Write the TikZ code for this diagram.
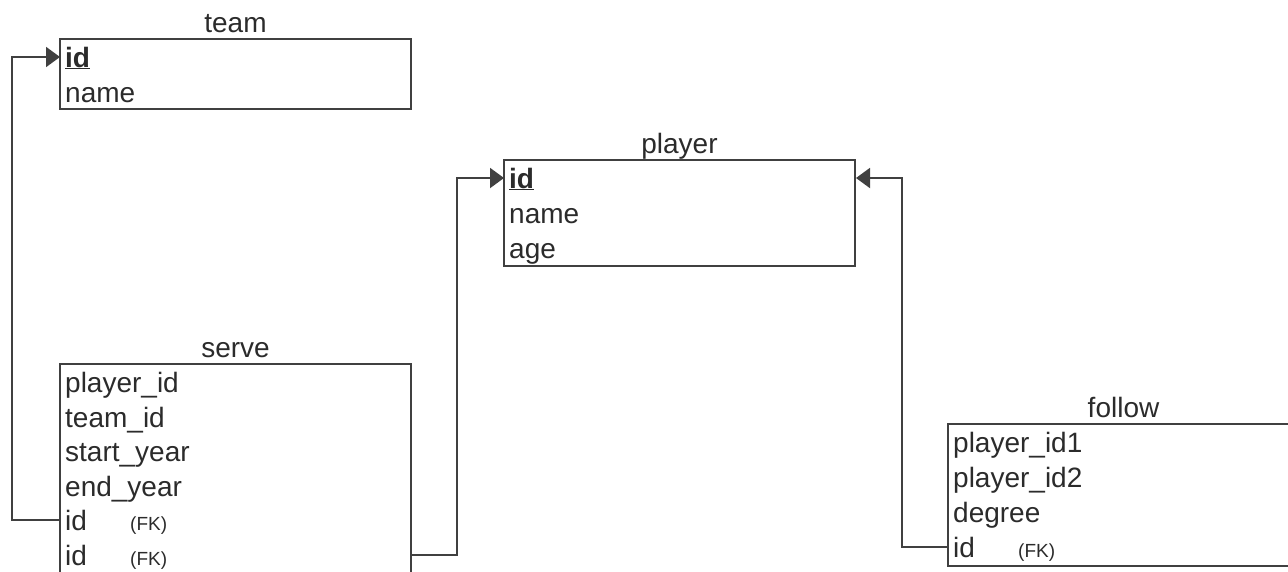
\documentclass[tikz,border=0pt]{standalone}
\usepackage{fontspec}
\setmainfont{Liberation Sans}
\usetikzlibrary{arrows.meta}
\definecolor{inkgray}{HTML}{2B2B2B}
\definecolor{linegray}{HTML}{404040}
\newcommand{\pkey}[1]{\underline{\textbf{#1}}}

\begin{document}
\begin{tikzpicture}[x=1pt, y=-1pt,
  tbl/.style={rectangle, draw=linegray, line width=2pt, inner sep=0pt},
  ttl/.style={anchor=base, inner sep=0pt, text=inkgray, font=\fontsize{28}{32}\selectfont},
  row/.style={anchor=base west, inner xsep=5pt, inner ysep=0pt, text height=20pt, text depth=0pt, text=inkgray, font=\fontsize{28}{32}\selectfont},
  fknote/.style={anchor=base west, inner sep=0pt, text=inkgray, font=\fontsize{19}{22}\selectfont},
  fk/.style={draw=linegray, line width=2pt, -{Triangle[length=14pt, width=20pt]}}]
\useasboundingbox (0,0) rectangle (1288,571);

% team table
\node[tbl, minimum width=351pt, minimum height=70pt] (team) at (235.5,74) {};
\node[ttl] at ([yshift=6pt]team.north) {team};
\node[row] (tid) at (60,67) {\pkey{id}};
\node[row] (tname) at (60,102) {name};

% player table
\node[tbl, minimum width=351pt, minimum height=106pt] (player) at (679.5,213) {};
\node[ttl] at ([yshift=6pt]player.north) {player};
\node[row] (pid) at (504,188) {\pkey{id}};
\node[row] (pname) at (504,223) {name};
\node[row] (page) at (504,258) {age};

% serve table
\node[tbl, minimum width=351pt, minimum height=214pt] (serve) at (235.5,471) {};
\node[ttl] at ([yshift=6pt]serve.north) {serve};
\node[row] (spid) at (60,392) {player\_id};
\node[row] (stid) at (60,427) {team\_id};
\node[row] (sstart) at (60,461) {start\_year};
\node[row] (send) at (60,496) {end\_year};
\node[row] (sid1) at (60,530) {id};
\node[fknote] (sfk1) at (130,530) {(FK)};
\node[row] (sid2) at (60,565) {id};
\node[fknote] (sfk2) at (130,565) {(FK)};

% follow table
\node[tbl, minimum width=351pt, minimum height=142pt] (follow) at (1123.5,495) {};
\node[ttl] at ([yshift=6pt]follow.north) {follow};
\node[row] (fpid1) at (948,452) {player\_id1};
\node[row] (fpid2) at (948,487) {player\_id2};
\node[row] (fdeg) at (948,522) {degree};
\node[row] (fid) at (948,557) {id};
\node[fknote] (ffk) at (1018,557) {(FK)};

% foreign keys
\draw[fk] (sid1.west) -- ++(-48,0) |- (tid.west);
\draw[fk] (serve.east |- sid2.west) -- ++(45,0) |- (pid.west);
\draw[fk] (fid.west) -- ++(-46,0) |- (player.east |- pid.west);
\end{tikzpicture}
\end{document}
